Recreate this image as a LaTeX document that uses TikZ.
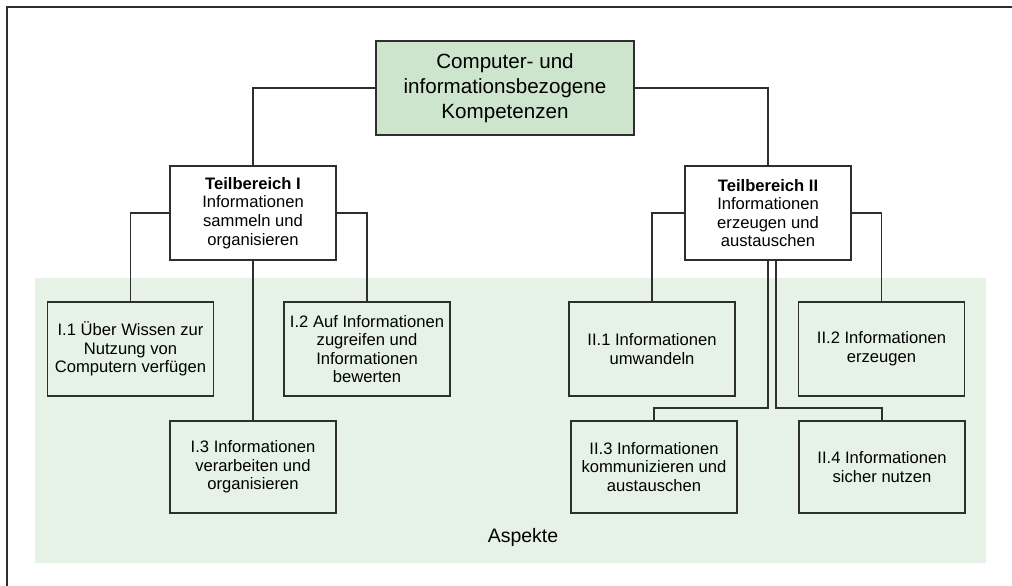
\documentclass[tikz,border=0pt]{standalone}
\usepackage{fontspec}
\setmainfont{Liberation Sans}
\definecolor{lineclr}{HTML}{2E2E2E}
\definecolor{topfill}{HTML}{CCE5CC}
\definecolor{aspfill}{HTML}{E7F2E7}
\tikzset{
  box/.style={draw=lineclr, line width=1.8pt, minimum width=166pt, minimum height=94pt,
    align=center, inner sep=2pt, font=\fontsize{16.6}{18.6}\selectfont},
  aspbox/.style={box, fill=aspfill},
  subbox/.style={box, fill=white},
  topbox/.style={draw=lineclr, line width=1.8pt, fill=topfill, minimum width=258pt, minimum height=94pt,
    align=center, font=\fontsize{20.6}{25}\selectfont},
  conn/.style={draw=lineclr, line width=1.4pt},
}
\begin{document}
\begin{tikzpicture}[x=1pt,y=-1pt]
\useasboundingbox (0,0) rectangle (1012,586);
\fill[white] (0,0) rectangle (1012,586);
\draw[lineclr, line width=1.8pt] (7,586) -- (7,7) -- (1012,7);
\fill[aspfill] (35,278) rectangle (986,563);
\node[font=\fontsize{19.5}{22}\selectfont] (asp) at (523,537) {Aspekte};

\node[topbox] (top) at (505,88) {Computer- und\\informationsbezogene\\Kompetenzen};
\node[subbox] (t1) at (253,213) {\textbf{Teilbereich I}\\Informationen\\sammeln und\\organisieren};
\node[subbox] (t2) at (768,213) {\textbf{Teilbereich II}\\Informationen\\erzeugen und\\austauschen};

\node[aspbox] (i1) at (130.5,349) {I.1 Über Wissen zur\\Nutzung von\\Computern verfügen};
\node[aspbox] (i2) at (367,349) {I.2 Auf Informationen\\zugreifen und\\Informationen\\bewerten};
\node[aspbox, minimum height=92pt] (i3) at (253,467) {I.3 Informationen\\verarbeiten und\\organisieren};

\node[aspbox] (ii1) at (652,349) {II.1 Informationen\\umwandeln};
\node[aspbox] (ii2) at (881.5,349) {II.2 Informationen\\erzeugen};
\node[aspbox, minimum height=92pt] (ii3) at (654,467) {II.3 Informationen\\kommunizieren und\\austauschen};
\node[aspbox, minimum height=92pt] (ii4) at (882,467) {II.4 Informationen\\sicher nutzen};

\draw[conn] (top.west) -| (t1.north);
\draw[conn] (top.east) -| (t2.north);
\draw[conn] (t1.west) -| (i1.north);
\draw[conn] (t1.east) -| (i2.north);
\draw[conn] (t1.south) -- (i3.north);
\draw[conn] (t2.west) -| (ii1.north);
\draw[conn] (t2.east) -| (ii2.north);
\coordinate (jl) at ([yshift=-147]t2.south);
\coordinate (jr) at ([xshift=8,yshift=-147]t2.south);
\draw[conn] (t2.south) -- (jl) -| (ii3.north);
\draw[conn] ([xshift=8]t2.south) -- (jr) -| (ii4.north);
\end{tikzpicture}
\end{document}
